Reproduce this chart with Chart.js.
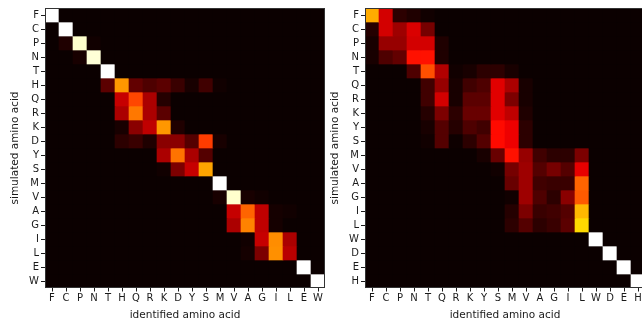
<!DOCTYPE html>
<html>
<head>
<meta charset="utf-8">
<script src="https://cdn.jsdelivr.net/npm/chart.js@4.4.1/dist/chart.umd.min.js"></script>
<style>
  html, body { margin: 0; padding: 0; background: #fff; overflow: hidden; width: 642px; height: 324px; }
  #wrap { position: relative; width: 642px; height: 324px; overflow: hidden; }
  .panel { position: absolute; top: 0; width: 330px; height: 324px; }
  #p1 { left: 0; }
  #p2 { left: 320px; }
</style>
</head>
<body>
<div id="wrap">
  <div class="panel" id="p1"><canvas id="c1" width="330" height="324"></canvas></div>
  <div class="panel" id="p2"><canvas id="c2" width="330" height="324"></canvas></div>
</div>
<script>
// Amino acid order on each confusion matrix
const leftLabels  = ['F','C','P','N','T','H','Q','R','K','D','Y','S','M','V','A','G','I','L','E','W'];
const rightLabels = ['F','C','P','N','T','Q','R','K','Y','S','M','V','A','G','I','L','W','D','E','H'];

// Rows: simulated amino acid, columns: identified amino acid (fraction)
//                  F     C     P     N     T     H     Q     R     K     D     Y     S     M     V     A     G     I     L     E     W
const leftF = [1.00, 0, 0, 0, 0, 0, 0, 0, 0, 0, 0, 0, 0, 0, 0, 0, 0, 0, 0, 0];
const leftC = [0, 1.00, 0, 0, 0, 0, 0, 0, 0, 0, 0, 0, 0, 0, 0, 0, 0, 0, 0, 0];
const leftP = [0, 0.03, 0.95, 0.01, 0, 0, 0, 0, 0, 0, 0, 0, 0, 0, 0, 0, 0, 0, 0, 0];
const leftN = [0, 0, 0.02, 0.96, 0, 0, 0, 0, 0, 0, 0, 0, 0, 0, 0, 0, 0, 0, 0, 0];
const leftT = [0, 0, 0, 0, 1.00, 0, 0, 0, 0, 0, 0, 0, 0, 0, 0, 0, 0, 0, 0, 0];
const leftH = [0, 0, 0, 0, 0.12, 0.59, 0.13, 0.10, 0.12, 0.07, 0.02, 0.08, 0.01, 0, 0, 0, 0, 0, 0, 0];
const leftQ = [0, 0, 0, 0, 0, 0.28, 0.47, 0.24, 0.04, 0, 0, 0, 0, 0, 0, 0, 0, 0, 0, 0];
const leftR = [0, 0, 0, 0, 0, 0.24, 0.545, 0.24, 0.12, 0, 0, 0, 0, 0, 0, 0, 0, 0, 0, 0];
const leftK = [0, 0, 0, 0, 0, 0.02, 0.19, 0.27, 0.59, 0.03, 0, 0, 0, 0, 0, 0, 0, 0, 0, 0];
const leftD = [0, 0, 0, 0, 0, 0.05, 0.07, 0.03, 0.19, 0.19, 0.11, 0.455, 0.02, 0, 0, 0, 0, 0, 0, 0];
const leftY = [0, 0, 0, 0, 0, 0, 0, 0, 0.24, 0.537, 0.24, 0.11, 0, 0, 0, 0, 0, 0, 0, 0];
const leftS = [0, 0, 0, 0, 0, 0, 0, 0, 0.01, 0.17, 0.28, 0.61, 0, 0, 0, 0, 0, 0, 0, 0];
const leftM = [0, 0, 0, 0, 0, 0, 0, 0, 0, 0, 0, 0, 1.00, 0, 0, 0, 0, 0, 0, 0];
const leftV = [0, 0, 0, 0, 0, 0, 0, 0, 0, 0, 0, 0, 0.02, 0.95, 0.02, 0.01, 0, 0, 0, 0];
const leftA = [0, 0, 0, 0, 0, 0, 0, 0, 0, 0, 0, 0, 0, 0.28, 0.515, 0.27, 0.015, 0.01, 0, 0];
const leftG = [0, 0, 0, 0, 0, 0, 0, 0, 0, 0, 0, 0, 0, 0.24, 0.56, 0.27, 0.015, 0, 0, 0];
const leftI = [0, 0, 0, 0, 0, 0, 0, 0, 0, 0, 0, 0, 0, 0, 0.01, 0.28, 0.575, 0.24, 0, 0];
const leftL = [0, 0, 0, 0, 0, 0, 0, 0, 0, 0, 0, 0, 0, 0, 0.015, 0.17, 0.58, 0.26, 0, 0];
const leftE = [0, 0, 0, 0, 0, 0, 0, 0, 0, 0, 0, 0, 0, 0, 0, 0, 0, 0, 1.00, 0];
const leftW = [0, 0, 0, 0, 0, 0, 0, 0, 0, 0, 0, 0, 0, 0, 0, 0, 0, 0, 0, 1.00];

//                  F     C     P     N     T     Q     R     K     Y     S     M     V     A     G     I     L     W     D     E     H
const rightF = [0.62, 0.30, 0.05, 0.03, 0.01, 0, 0, 0, 0, 0, 0, 0, 0, 0, 0, 0, 0, 0, 0, 0];
const rightC = [0.04, 0.30, 0.22, 0.31, 0.16, 0, 0, 0, 0, 0, 0, 0, 0, 0, 0, 0, 0, 0, 0, 0];
const rightP = [0.02, 0.21, 0.21, 0.30, 0.30, 0.03, 0, 0, 0, 0, 0, 0, 0, 0, 0, 0, 0, 0, 0, 0];
const rightN = [0.02, 0.10, 0.13, 0.39, 0.39, 0.03, 0, 0, 0, 0, 0, 0, 0, 0, 0, 0, 0, 0, 0, 0];
const rightT = [0, 0, 0, 0.10, 0.485, 0.25, 0.01, 0.02, 0.05, 0.05, 0.02, 0, 0, 0, 0, 0, 0, 0, 0, 0];
const rightQ = [0, 0, 0, 0, 0.08, 0.21, 0.02, 0.08, 0.10, 0.32, 0.24, 0.02, 0, 0, 0, 0, 0, 0, 0, 0];
const rightR = [0, 0, 0, 0, 0.08, 0.30, 0.02, 0.12, 0.12, 0.32, 0.17, 0.02, 0, 0, 0, 0, 0, 0, 0, 0];
const rightK = [0, 0, 0, 0, 0.04, 0.17, 0.05, 0.14, 0.14, 0.32, 0.27, 0.03, 0, 0, 0, 0, 0, 0, 0, 0];
const rightY = [0, 0, 0, 0, 0.02, 0.11, 0.04, 0.10, 0.08, 0.38, 0.34, 0.05, 0, 0, 0, 0, 0, 0, 0, 0];
const rightS = [0, 0, 0, 0, 0.01, 0.11, 0.005, 0.05, 0.11, 0.38, 0.34, 0.05, 0, 0, 0, 0, 0, 0, 0, 0];
const rightM = [0, 0, 0, 0, 0, 0, 0, 0, 0.02, 0.14, 0.39, 0.21, 0.08, 0.05, 0.05, 0.17, 0, 0, 0, 0];
const rightV = [0, 0, 0, 0, 0, 0, 0, 0, 0, 0.01, 0.16, 0.22, 0.11, 0.16, 0.11, 0.33, 0, 0, 0, 0];
const rightA = [0, 0, 0, 0, 0, 0, 0, 0, 0, 0, 0.14, 0.22, 0.08, 0.07, 0.07, 0.515, 0, 0, 0, 0];
const rightG = [0, 0, 0, 0, 0, 0, 0, 0, 0, 0, 0.01, 0.22, 0.10, 0.05, 0.19, 0.50, 0, 0, 0, 0];
const rightI = [0, 0, 0, 0, 0, 0, 0, 0, 0, 0, 0.04, 0.17, 0.07, 0.08, 0.11, 0.64, 0, 0, 0, 0];
const rightL = [0, 0, 0, 0, 0, 0, 0, 0, 0, 0, 0.05, 0.11, 0.05, 0.07, 0.12, 0.69, 0, 0, 0, 0];
const rightW = [0, 0, 0, 0, 0, 0, 0, 0, 0, 0, 0, 0, 0, 0, 0, 0, 1.00, 0, 0, 0];
const rightD = [0, 0, 0, 0, 0, 0, 0, 0, 0, 0, 0, 0, 0, 0, 0, 0, 0, 1.00, 0, 0];
const rightE = [0, 0, 0, 0, 0, 0, 0, 0, 0, 0, 0, 0, 0, 0, 0, 0, 0, 0, 1.00, 0];
const rightH = [0, 0, 0, 0, 0, 0, 0, 0, 0, 0, 0, 0, 0, 0, 0, 0, 0, 0, 0, 1.00];

const leftRows  = [leftF, leftC, leftP, leftN, leftT, leftH, leftQ, leftR, leftK, leftD,
                   leftY, leftS, leftM, leftV, leftA, leftG, leftI, leftL, leftE, leftW];
const rightRows = [rightF, rightC, rightP, rightN, rightT, rightQ, rightR, rightK, rightY, rightS,
                   rightM, rightV, rightA, rightG, rightI, rightL, rightW, rightD, rightE, rightH];

// "hot" colour map: black -> red -> yellow -> white
function hot(v) {
  v = Math.max(0, Math.min(1, v));
  const a = 0.365079, b = 0.746032;
  const r = v < a ? 0.0416 + (1 - 0.0416) * v / a : 1;
  const g = v < a ? 0 : (v < b ? (v - a) / (b - a) : 1);
  const bl = v < b ? 0 : (v - b) / (1 - b);
  return `rgb(${Math.round(r * 255)},${Math.round(g * 255)},${Math.round(bl * 255)})`;
}

const FONT = "'DejaVu Sans', sans-serif";
const INK = '#1a1a1a';

// Fills the plot area with the zero colour and draws the frame
const framePlugin = {
  id: 'frame',
  beforeDatasetsDraw(chart) {
    const { ctx, chartArea: a } = chart;
    ctx.save();
    ctx.fillStyle = hot(0);
    ctx.fillRect(a.left, a.top, a.right - a.left, a.bottom - a.top);
    ctx.restore();
  },
  afterDatasetsDraw(chart) {
    const { ctx, chartArea: a } = chart;
    ctx.save();
    ctx.strokeStyle = '#333';
    ctx.lineWidth = 1;
    ctx.strokeRect(a.left + 0.5, a.top + 0.5, a.right - a.left - 1, a.bottom - a.top - 1);
    ctx.restore();
  }
};

function heatmap(canvasId, labels, rows) {
  const datasets = rows.map((row, i) => ({
    data: row.map(() => [i - 0.5, i + 0.5]),
    backgroundColor: row.map(v => hot(v)),
    borderWidth: 0,
    barPercentage: 1,
    categoryPercentage: 1,
    grouped: false
  }));

  return new Chart(document.getElementById(canvasId), {
    type: 'bar',
    data: { labels: labels, datasets: datasets },
    plugins: [framePlugin],
    options: {
      responsive: false,
      animation: false,
      layout: { padding: { top: 7, right: 5, left: 0, bottom: 0 } },
      plugins: { legend: { display: false }, tooltip: { enabled: false } },
      scales: {
        x: {
          type: 'category',
          offset: true,
          afterFit(s) { s.height = 36; },
          grid: { offset: false, drawOnChartArea: false, drawTicks: true, tickLength: 3.5, color: INK },
          border: { display: false },
          ticks: { color: INK, font: { family: FONT, size: 10 }, padding: 1, autoSkip: false, maxRotation: 0 },
          title: { display: true, text: 'identified amino acid', color: INK,
                   font: { family: FONT, size: 10.5 }, padding: { top: 0, bottom: 2.5 } }
        },
        y: {
          type: 'linear',
          reverse: true,
          min: -0.5,
          max: 19.5,
          afterFit(s) { s.width = 45; },
          afterBuildTicks(s) { s.ticks = labels.map((_, i) => ({ value: i })); },
          grid: { drawOnChartArea: false, drawTicks: true, tickLength: 4, color: INK },
          border: { display: false },
          ticks: { color: INK, font: { family: FONT, size: 10 }, padding: 2, autoSkip: false,
                   callback: v => labels[v] },
          title: { display: true, text: 'simulated amino acid', color: INK,
                   font: { family: FONT, size: 10.5 }, padding: { top: 8.7, bottom: 0 } }
        }
      }
    }
  });
}

heatmap('c1', leftLabels, leftRows);
heatmap('c2', rightLabels, rightRows);
</script>
</body>
</html>
